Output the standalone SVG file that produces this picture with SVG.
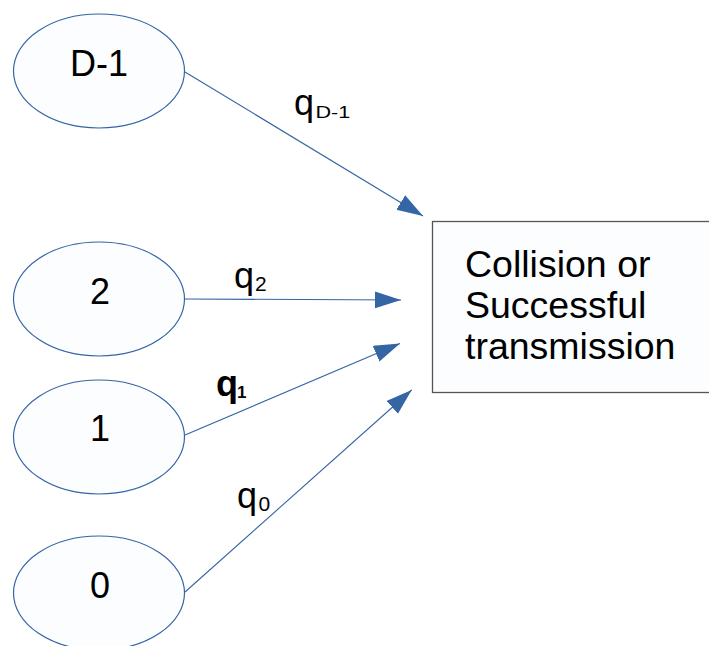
<svg xmlns="http://www.w3.org/2000/svg" width="709" height="646" viewBox="0 0 709 646">
<style>
.node{fill:#fbfdff;stroke:#3465a4;stroke-width:1.2}
.box{fill:#fbfdff;stroke:#555555;stroke-width:1.3}
.t{font-family:"Liberation Sans",Arial,sans-serif;font-size:36px;fill:#000}
.b{font-family:"Liberation Sans",Arial,sans-serif;font-size:37.5px;fill:#000}
.s{font-family:"Liberation Sans",Arial,sans-serif;font-size:21px;fill:#000}
.c{stroke:#3465a4;stroke-width:1.1;fill:none;marker-end:url(#ah)}
</style>
<defs>
<marker id="ah" markerUnits="userSpaceOnUse" markerWidth="27" markerHeight="18" refX="26" refY="8.5" orient="auto">
<path d="M0,0 L26,8.5 L0,17 z" fill="#3465a4"/>
</marker>
</defs>
<rect width="709" height="646" fill="#ffffff"/>
<g id="connectors">
<line class="c" x1="185" y1="72" x2="423" y2="216"/>
<line class="c" x1="185" y1="299" x2="401" y2="300"/>
<line class="c" x1="185" y1="435" x2="400" y2="343.5"/>
<line class="c" x1="185" y1="592" x2="411.7" y2="390"/>
</g>
<g id="node-d1">
<ellipse class="node" cx="99" cy="71" rx="85.5" ry="57"/>
<text class="t" x="99" y="76" text-anchor="middle">D-1</text>
</g>
<g id="node-2">
<ellipse class="node" cx="99" cy="299" rx="85.5" ry="57"/>
<text class="t" x="100" y="303.5" text-anchor="middle">2</text>
</g>
<g id="node-1">
<ellipse class="node" cx="99" cy="437" rx="85.5" ry="57"/>
<text class="t" x="100" y="441" text-anchor="middle">1</text>
</g>
<g id="node-0">
<ellipse class="node" cx="99" cy="593" rx="85.5" ry="57"/>
<text class="t" x="100" y="597.5" text-anchor="middle">0</text>
</g>
<g id="node-box">
<rect class="box" x="432.5" y="221.5" width="290" height="171"/>
<text class="b" x="465" y="277">Collision or</text>
<text class="b" x="465" y="317.5">Successful</text>
<text class="b" x="465" y="359">transmission</text>
</g>
<g id="labels">
<text class="t" x="294" y="115">q</text>
<text class="s" transform="translate(315.5,118) scale(1.03,0.75)">D-1</text>
<text class="t" x="234" y="287.5">q</text>
<text class="s" x="255" y="290.7">2</text>
<text class="t" x="216" y="395.5" font-weight="bold">q</text>
<text class="s" x="237" y="398" font-weight="bold" style="font-size:17px">1</text>
<text class="t" x="237" y="507.5">q</text>
<text class="s" x="258.5" y="510.7">0</text>
</g>
</svg>
